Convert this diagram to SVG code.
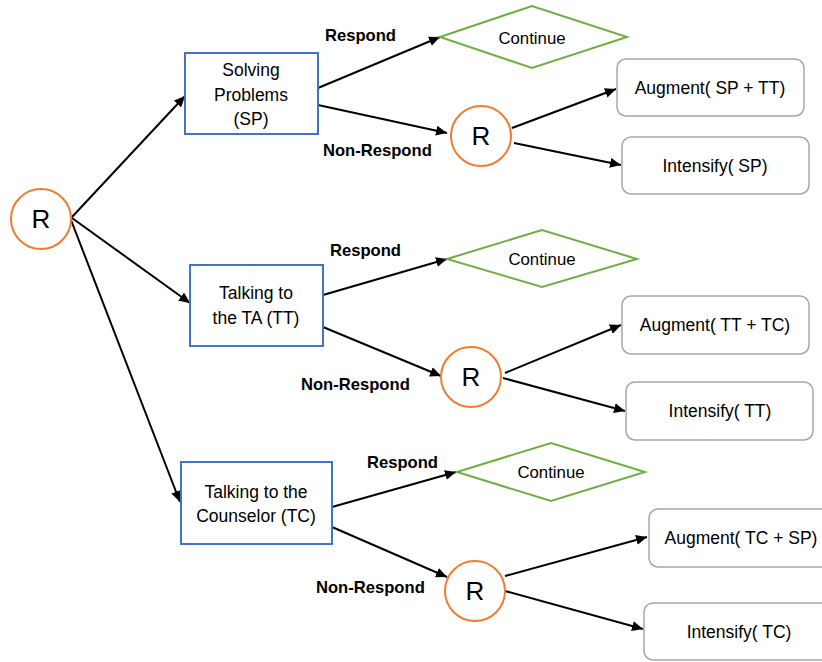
<svg xmlns="http://www.w3.org/2000/svg" width="822" height="662" viewBox="0 0 822 662">
<defs>
<marker id="ah" markerUnits="userSpaceOnUse" markerWidth="12" markerHeight="10" refX="11" refY="5" orient="auto">
<path d="M0,0 L11,5 L0,10 Z" fill="#000"/>
</marker>
<style>
text{font-family:"Liberation Sans","Noto Sans",Arial,sans-serif;fill:#000;text-anchor:middle}
.t{font-size:17.5px}
.ct{font-size:16.8px}
.lbl{font-size:16.6px;font-weight:bold;text-anchor:start}
.r{font-size:26px}
.circ{fill:#fff;stroke:#ed7d31;stroke-width:2}
.blue{fill:#fff;stroke:#4472c4;stroke-width:2}
.dia{fill:#fff;stroke:#70ad47;stroke-width:2}
.grey{fill:#fff;stroke:#a6a6a6;stroke-width:1.5}
.c{fill:none;stroke:#000;stroke-width:2;marker-end:url(#ah)}
</style>
</defs>
<rect width="822" height="662" fill="#fff"/>
<g id="connectors">
<line class="c" x1="72" y1="217" x2="185" y2="96"/>
<line class="c" x1="72" y1="218" x2="190" y2="303"/>
<line class="c" x1="71" y1="220" x2="180" y2="502"/>
<line class="c" x1="318" y1="88" x2="440" y2="37"/>
<line class="c" x1="318" y1="105" x2="447" y2="133"/>
<line class="c" x1="512" y1="128" x2="616" y2="89"/>
<line class="c" x1="514" y1="143" x2="621" y2="165"/>
<line class="c" x1="323" y1="295" x2="447" y2="259"/>
<line class="c" x1="323" y1="327" x2="441" y2="376"/>
<line class="c" x1="505" y1="373" x2="621" y2="325"/>
<line class="c" x1="503" y1="378" x2="625" y2="411"/>
<line class="c" x1="332" y1="507" x2="456" y2="472"/>
<line class="c" x1="332" y1="527" x2="447" y2="577"/>
<line class="c" x1="505" y1="576" x2="647" y2="537"/>
<line class="c" x1="505" y1="591" x2="643" y2="629"/>
</g>
<g id="root"><circle class="circ" cx="41" cy="219" r="30"/><text class="r" x="41" y="228">R</text></g>
<g id="sp"><rect class="blue" x="185" y="53" width="133" height="81"/><text class="t" x="251" y="76">Solving</text><text class="t" x="251" y="101">Problems</text><text class="t" x="251" y="125">(SP)</text></g>
<g id="tt"><rect class="blue" x="190" y="265" width="133" height="81"/><text class="t" x="256" y="299">Talking to</text><text class="t" x="256" y="324">the TA (TT)</text></g>
<g id="tc"><rect class="blue" x="181" y="462" width="151" height="82"/><text class="t" x="256" y="498">Talking to the</text><text class="t" x="256" y="522">Counselor (TC)</text></g>
<g id="lbl-sp-r"><text class="lbl" x="325" y="41">Respond</text></g>
<g id="lbl-sp-n"><text class="lbl" x="323" y="156">Non-Respond</text></g>
<g id="lbl-tt-r"><text class="lbl" x="330" y="256">Respond</text></g>
<g id="lbl-tt-n"><text class="lbl" x="301" y="390">Non-Respond</text></g>
<g id="lbl-tc-r"><text class="lbl" x="367" y="468">Respond</text></g>
<g id="lbl-tc-n"><text class="lbl" x="316" y="593">Non-Respond</text></g>
<g id="cont1"><polygon class="dia" points="440,37 532,6 627,37 532,68"/><text class="ct" x="532" y="44">Continue</text></g>
<g id="cont2"><polygon class="dia" points="447,259 542,230 637,259 542,287"/><text class="ct" x="542" y="265">Continue</text></g>
<g id="cont3"><polygon class="dia" points="457,472 551,443 645,472 551,501"/><text class="ct" x="551" y="478">Continue</text></g>
<g id="r1"><circle class="circ" cx="481" cy="136" r="30"/><text class="r" x="481" y="145">R</text></g>
<g id="r2"><circle class="circ" cx="471" cy="377" r="30"/><text class="r" x="471" y="386">R</text></g>
<g id="r3"><circle class="circ" cx="475" cy="591" r="30"/><text class="r" x="475" y="600">R</text></g>
<g id="aug1"><rect class="grey" x="617" y="59" width="187" height="57" rx="9"/><text class="t" x="710" y="94">Augment( SP + TT)</text></g>
<g id="int1"><rect class="grey" x="622" y="137" width="187" height="57" rx="9"/><text class="t" x="715" y="172">Intensify( SP)</text></g>
<g id="aug2"><rect class="grey" x="622" y="296" width="187" height="58" rx="9"/><text class="t" x="715" y="331">Augment( TT + TC)</text></g>
<g id="int2"><rect class="grey" x="626" y="382" width="187" height="58" rx="9"/><text class="t" x="720" y="417">Intensify( TT)</text></g>
<g id="aug3"><rect class="grey" x="649" y="509" width="187" height="58" rx="9"/><text class="t" x="741" y="544">Augment( TC + SP)</text></g>
<g id="int3"><rect class="grey" x="644" y="603" width="187" height="57" rx="9"/><text class="t" x="739" y="638">Intensify( TC)</text></g>
</svg>
